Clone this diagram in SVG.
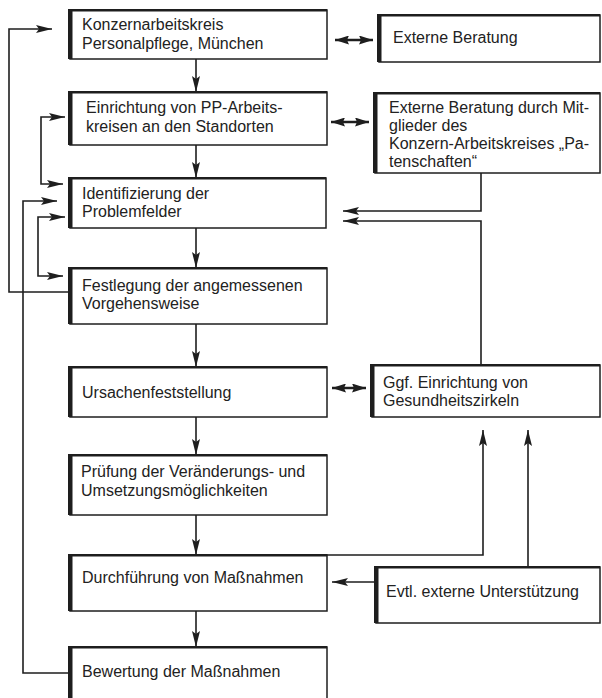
<svg xmlns="http://www.w3.org/2000/svg" width="602" height="698" viewBox="0 0 602 698">
<style>
.box{fill:#fff;stroke:#1e1e1e;stroke-width:1.5}
.bar{fill:#1e1e1e}
.t{font-family:"Liberation Sans",Arial,sans-serif;font-size:16px;fill:#222}
.c{fill:none;stroke:#1e1e1e;stroke-width:1.6}
.dc{fill:none;stroke:#1e1e1e;stroke-width:2.4}
</style>
<defs>
<marker id="a" markerUnits="userSpaceOnUse" markerWidth="16" markerHeight="8" refX="16" refY="4" orient="auto-start-reverse" viewBox="0 0 16 8">
<path d="M0,0 L16,4 L0,8 L3,4 z" fill="#1e1e1e"/>
</marker>
<marker id="d" markerUnits="userSpaceOnUse" markerWidth="14" markerHeight="9" refX="14" refY="4.5" orient="auto-start-reverse" viewBox="0 0 14 9">
<path d="M0,0 L14,4.5 L0,9 L2,4.5 z" fill="#1e1e1e"/>
</marker>
</defs>
<rect width="602" height="698" fill="#fff"/>

<g id="connectors">
<line class="c" x1="196" y1="59" x2="196" y2="92" marker-end="url(#a)"/>
<line class="c" x1="196" y1="145" x2="196" y2="178" marker-end="url(#a)"/>
<line class="c" x1="196" y1="228" x2="196" y2="268" marker-end="url(#a)"/>
<line class="c" x1="196" y1="324" x2="196" y2="367" marker-end="url(#a)"/>
<line class="c" x1="196" y1="417" x2="196" y2="455" marker-end="url(#a)"/>
<line class="c" x1="196" y1="515" x2="196" y2="555" marker-end="url(#a)"/>
<line class="c" x1="196" y1="611" x2="196" y2="647" marker-end="url(#a)"/>
<path class="c" d="M68,292 H9 V29 H52" marker-end="url(#a)"/>
<path class="c" d="M65,117 H41 V184 H63" marker-start="url(#a)" marker-end="url(#a)"/>
<path class="c" d="M68,673 H23 V201 H57" marker-end="url(#a)"/>
<path class="c" d="M65,217 H38 V276 H63" marker-start="url(#a)" marker-end="url(#a)"/>
<line class="dc" x1="335" y1="40" x2="373" y2="40" marker-start="url(#d)" marker-end="url(#d)"/>
<line class="dc" x1="331" y1="122" x2="369" y2="122" marker-start="url(#d)" marker-end="url(#d)"/>
<line class="dc" x1="332" y1="388" x2="366" y2="388" marker-start="url(#d)" marker-end="url(#d)"/>
<path class="c" d="M481,173 V211 H343" marker-end="url(#a)"/>
<path class="c" d="M481,365 V221 H343" marker-end="url(#a)"/>
<path class="c" d="M327,555 H483 V430" marker-end="url(#a)"/>
<path class="c" d="M528,567 V430" marker-end="url(#a)"/>
<path class="c" d="M374,582 H332" marker-end="url(#a)"/>
</g>

<g id="n1">
<rect class="box" x="70" y="10" width="257" height="49"/>
<rect class="bar" x="68" y="9" width="259" height="2.5"/>
<rect class="bar" x="68" y="10" width="4.5" height="49"/>
<text class="t" x="82" y="30">Konzernarbeitskreis</text>
<text class="t" x="82" y="49">Personalpflege, München</text>
</g>
<g id="n2">
<rect class="box" x="70" y="92" width="257" height="53"/>
<rect class="bar" x="68" y="91" width="259" height="2.5"/>
<rect class="bar" x="68" y="92" width="4.5" height="53"/>
<text class="t" x="86" y="113">Einrichtung von PP-Arbeits-</text>
<text class="t" x="86" y="132">kreisen an den Standorten</text>
</g>
<g id="n3">
<rect class="box" x="70" y="178" width="256" height="50"/>
<rect class="bar" x="68" y="177" width="258" height="2.5"/>
<rect class="bar" x="68" y="178" width="4.5" height="50"/>
<text class="t" x="82" y="199">Identifizierung der</text>
<text class="t" x="82" y="217">Problemfelder</text>
</g>
<g id="n4">
<rect class="box" x="70" y="268" width="257" height="56"/>
<rect class="bar" x="68" y="267" width="259" height="2.5"/>
<rect class="bar" x="68" y="268" width="4.5" height="56"/>
<text class="t" x="82" y="291">Festlegung der angemessenen</text>
<text class="t" x="82" y="309">Vorgehensweise</text>
</g>
<g id="n5">
<rect class="box" x="70" y="367" width="257" height="50"/>
<rect class="bar" x="68" y="366" width="259" height="2.5"/>
<rect class="bar" x="68" y="367" width="4.5" height="50"/>
<text class="t" x="82" y="398">Ursachenfeststellung</text>
</g>
<g id="n6">
<rect class="box" x="70" y="455" width="257" height="60"/>
<rect class="bar" x="68" y="454" width="259" height="2.5"/>
<rect class="bar" x="68" y="455" width="4.5" height="60"/>
<text class="t" x="81" y="477">Prüfung der Veränderungs- und</text>
<text class="t" x="81" y="496">Umsetzungsmöglichkeiten</text>
</g>
<g id="n7">
<rect class="box" x="70" y="555" width="257" height="56"/>
<rect class="bar" x="68" y="554" width="259" height="2.5"/>
<rect class="bar" x="68" y="555" width="4.5" height="56"/>
<text class="t" x="82" y="583">Durchführung von Maßnahmen</text>
</g>
<g id="n8">
<rect class="box" x="70" y="647" width="257" height="60"/>
<rect class="bar" x="68" y="646" width="259" height="2.5"/>
<rect class="bar" x="68" y="647" width="4.5" height="60"/>
<text class="t" x="82" y="677">Bewertung der Maßnahmen</text>
</g>
<g id="e1">
<rect class="box" x="379" y="15" width="221" height="47"/>
<rect class="bar" x="377" y="14" width="223" height="2.5"/>
<rect class="bar" x="377" y="15" width="4.5" height="47"/>
<text class="t" x="393" y="43">Externe Beratung</text>
</g>
<g id="e2">
<rect class="box" x="375" y="93" width="225" height="80"/>
<rect class="bar" x="373" y="92" width="227" height="2.5"/>
<rect class="bar" x="373" y="93" width="4.5" height="80"/>
<text class="t" x="389" y="113">Externe Beratung durch Mit-</text>
<text class="t" x="389" y="131">glieder des</text>
<text class="t" x="389" y="149">Konzern-Arbeitskreises „Pa-</text>
<text class="t" x="389" y="167">tenschaften“</text>
</g>
<g id="e3">
<rect class="box" x="372" y="365" width="228" height="52"/>
<rect class="bar" x="370" y="364" width="230" height="2.5"/>
<rect class="bar" x="370" y="365" width="4.5" height="52"/>
<text class="t" x="383" y="388">Ggf. Einrichtung von</text>
<text class="t" x="383" y="406">Gesundheitszirkeln</text>
</g>
<g id="e4">
<rect class="box" x="376" y="567" width="224" height="56"/>
<rect class="bar" x="374" y="566" width="226" height="2.5"/>
<rect class="bar" x="374" y="567" width="4.5" height="56"/>
<text class="t" x="386" y="597">Evtl. externe Unterstützung</text>
</g>
</svg>
